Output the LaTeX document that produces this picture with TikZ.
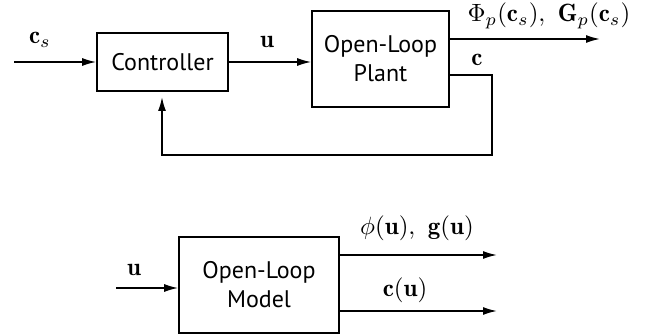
\documentclass[tikz,border=0pt]{standalone}
\usepackage{amsmath}
\usepackage{graphicx}
\usepackage{fontspec}
\newfontfamily\boxfont{PT Sans}
\usetikzlibrary{arrows.meta}
\newcommand{\biglbl}[1]{\scalebox{2.5}{$#1$}}
\begin{document}
\begin{tikzpicture}[x=1pt,y=-1pt,
  blockbox/.style={draw,line width=1.6pt,inner sep=0pt,font=\boxfont\fontsize{24}{29}\selectfont,align=center},
  sig/.style={line width=1.6pt,-{Latex[length=14pt,width=8pt]}},
  lbl/.style={inner sep=0pt}]
\useasboundingbox (0,0) rectangle (653,336);
% closed loop
\node[blockbox,minimum width=131pt,minimum height=58pt] (ctrl) at (162.5,62) {Controller};
\node[blockbox,minimum width=137pt,minimum height=96pt] (plant) at (380.5,59) {Open-Loop\\Plant};
\coordinate (cin) at (14,62);
\coordinate (pout) at (600,39);
\coordinate (c1) at (492,75);
\coordinate (c2) at (492,155);
\coordinate (c3) at (162,155);
\coordinate (c4) at (162,97);
\draw[sig] (cin) -- (ctrl.west);
\draw[sig] (ctrl.east) -- (plant.west |- ctrl.east);
\draw[sig] (plant.east |- pout) -- (pout);
\draw[sig] (plant.east |- c1) -- (c1) -- (c2) -- (c3) -- (c4);
\node[lbl] (lcs) at (40,40) {\biglbl{\mathbf{c}_s}};
\node[lbl] (lu) at (267,42) {\biglbl{\mathbf{u}}};
\node[lbl] (lphi) at (549,16) {\biglbl{\Phi_p(\mathbf{c}_s),\ \mathbf{G}_p(\mathbf{c}_s)}};
\node[lbl] (lc) at (477,60) {\biglbl{\mathbf{c}}};
% open-loop model
\node[blockbox,minimum width=160pt,minimum height=96pt] (model) at (259,285) {Open-Loop\\Model};
\coordinate (min) at (116,288);
\coordinate (mo1) at (497,255);
\coordinate (mo2) at (497,311);
\draw[sig] (min) -- (model.west |- min);
\draw[sig] (model.east |- mo1) -- (mo1);
\draw[sig] (model.east |- mo2) -- (mo2);
\node[lbl] (lmu) at (134,270) {\biglbl{\mathbf{u}}};
\node[lbl] (lphim) at (417,228) {\biglbl{\phi(\mathbf{u}),\ \mathbf{g}(\mathbf{u})}};
\node[lbl] (lcu) at (405,290) {\biglbl{\mathbf{c}(\mathbf{u})}};
\end{tikzpicture}
\end{document}
